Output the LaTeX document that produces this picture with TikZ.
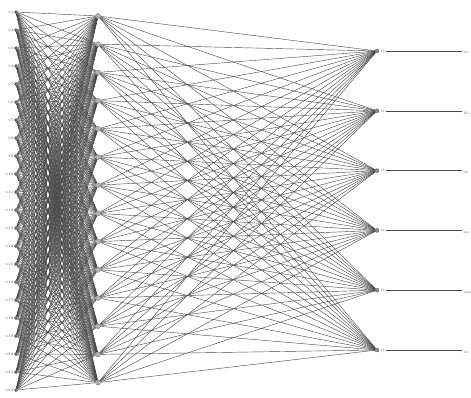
\documentclass[tikz,border=0pt]{standalone}
\pgfdeclarelayer{bg}
\pgfsetlayers{bg,main}
\begin{document}
\begin{tikzpicture}[x=1pt,y=-1pt,
  conn/.style={draw=black!72, line width=0.42pt},
  outline/.style={draw=black!70, line width=0.6pt},
  inneuron/.style={circle, fill=black!55, draw=black!70, line width=0.3pt, inner sep=0pt, minimum size=3.5pt},
  hidneuron/.style={circle, fill=black!30, draw=black!55, line width=0.3pt, inner sep=0pt, minimum size=5pt},
  outneuron/.style={circle, fill=black!45, draw=black!65, line width=0.3pt, inner sep=0pt, minimum size=4pt},
  lbl/.style={font=\fontsize{3.8}{4.5}\selectfont, text=black!65, inner sep=0.5pt}]
\useasboundingbox (0,0) rectangle (471,397);
% input layer
\foreach \i in {1,...,22} {
  \node[inneuron] (I\i) at (16,{12+18*(\i-1)}) {};
  \node[lbl, anchor=east] (L\i) at (I\i.west) {v\i};
}
% hidden layer
\foreach \j in {1,...,14} {
  \node[hidneuron] (H\j) at (98,{16+28.2*(\j-1)}) {};
}
% output layer
\foreach \k/\name in {1/ve,2/de,3/se,4/su,5/ene,6/ot} {
  \node[outneuron] (O\k) at (377,{51+59.8*(\k-1)}) {};
  \node[lbl, anchor=west] (T\k) at ([xshift=1.5pt]O\k.east) {0};
  \coordinate (E\k) at (462,{51+59.8*(\k-1)});
  \draw[outline] ([xshift=1pt]T\k.east) -- (E\k);
  \node[lbl, anchor=north west] (R\k) at ([xshift=1pt,yshift=-0.5pt]E\k) {\name};
}
\begin{pgfonlayer}{bg}
\fill[white] (0,0) rectangle (471,397);
\foreach \i in {1,...,22} {
  \foreach \j in {1,...,14} {
    \draw[conn] (I\i) -- (H\j);
  }
}
\foreach \j in {1,...,14} {
  \foreach \k in {1,...,6} {
    \draw[conn] (H\j) -- (O\k);
  }
}
\end{pgfonlayer}
\end{tikzpicture}
\end{document}
